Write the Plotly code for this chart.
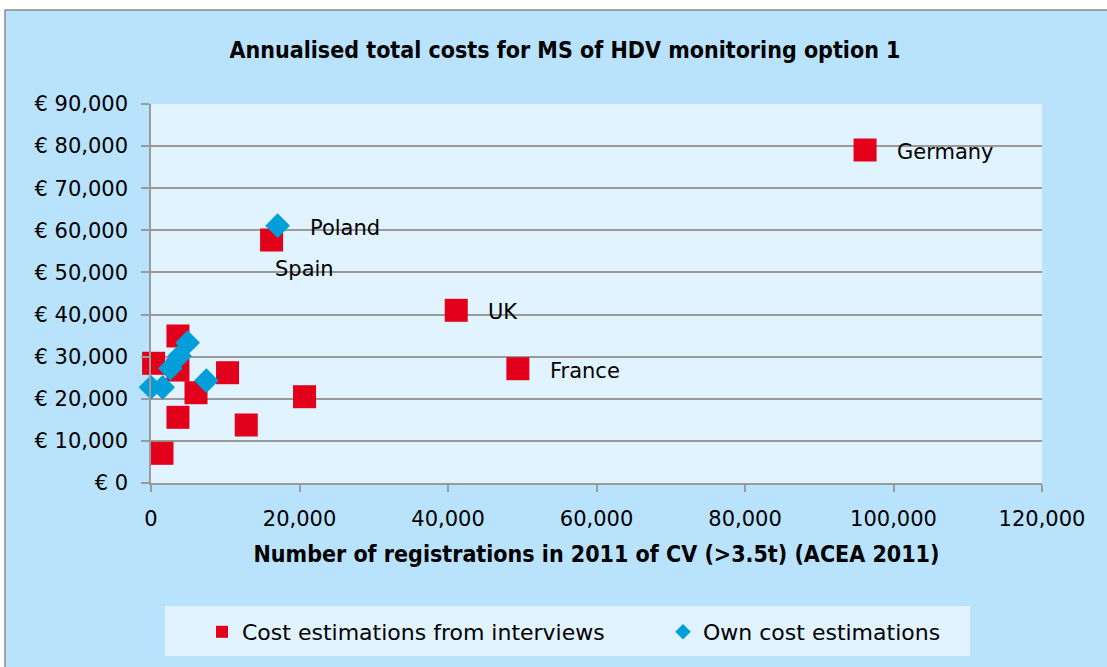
import plotly.graph_objects as go

# Cost estimations from interviews (red squares)
int_x = [96170, 16240, 41110, 49410, 20680, 10310, 12830, 3630, 350, 3630, 6060, 3630, 1480]
int_y = [79080, 57700, 41010, 27140, 20490, 26190, 13770, 34910, 28430, 26830, 21440, 15600, 7050]
int_lbl = ["Germany", "", "UK", "France", "", "", "", "", "", "", "", "", ""]

# Own cost estimations (blue diamonds)
own_x = [17050, 0, 1570, 2600, 3850, 4930, 7450]
own_y = [61100, 22720, 22720, 27230, 30160, 33320, 24300]
own_lbl = ["Poland", "", "", "", "", "", ""]

spain_idx = 1
spain_lbl = "Spain"

x_ticks = [0, 20000, 40000, 60000, 80000, 100000, 120000]
y_ticks = [0, 10000, 20000, 30000, 40000, 50000, 60000, 70000, 80000, 90000]
y_ticktext = ["€ 0", "€ 10,000", "€ 20,000", "€ 30,000", "€ 40,000", "€ 50,000",
              "€ 60,000", "€ 70,000", "€ 80,000", "€ 90,000"]

RED = "#E2001A"
BLUE = "#009FD9"
OUTER = "#B9E3FC"
INNER = "#E1F3FE"
GRID = "#9A9A9A"
FONT = "DejaVu Sans"
BFONT = "DejaVu Sans Condensed"

fig = go.Figure()
fig.add_trace(go.Scatter(x=int_x, y=int_y, mode="markers", name="Cost estimations from interviews",
                         marker=dict(symbol="square", size=23, color=RED, line=dict(width=0)),
                         cliponaxis=False, legend="legend"))
fig.add_trace(go.Scatter(x=own_x, y=own_y, mode="markers", name="Own cost estimations",
                         marker=dict(symbol="diamond", size=19, color=BLUE, line=dict(width=0)),
                         cliponaxis=False, legend="legend2"))

ann = []
for xs, ys, ls in ((int_x, int_y, int_lbl), (own_x, own_y, own_lbl)):
    for xv, yv, lv in zip(xs, ys, ls):
        if lv:
            ann.append(dict(x=xv, y=yv, xref="x", yref="y", text=lv, showarrow=False,
                            xanchor="left", yanchor="middle", xshift=30, yshift=-2,
                            font=dict(family=FONT, size=21, color="black")))
ann.append(dict(x=int_x[spain_idx], y=int_y[spain_idx], xref="x", yref="y", text=spain_lbl,
                showarrow=False, xanchor="left", yanchor="middle", xshift=1, yshift=-29,
                font=dict(family=FONT, size=21, color="black")))

L, R, T, B = 151, 65, 104, 184
W, H = 1107, 667
pw, ph = W - L - R, H - T - B

def px(xp):
    return (xp - L) / pw

def py(yp):
    return (H - B - yp) / ph

shapes = [
    dict(type="rect", xref="paper", yref="paper", x0=px(5), x1=px(1120), y0=py(680), y1=py(10),
         fillcolor=OUTER, line=dict(color="#8C8C8C", width=1.5), layer="below"),
    dict(type="rect", xref="paper", yref="paper", x0=0, x1=1, y0=0, y1=1,
         fillcolor=INNER, line=dict(width=0), layer="below"),
    dict(type="rect", xref="paper", yref="paper", x0=px(165), x1=px(970), y0=py(656), y1=py(606),
         fillcolor=INNER, line=dict(width=0), layer="below"),
]

leg_common = dict(orientation="h", xanchor="left", y=py(632), yanchor="middle",
                  bgcolor="rgba(0,0,0,0)", font=dict(family=FONT, size=22, color="black"),
                  itemsizing="constant")

fig.update_layout(
    width=W, height=H,
    margin=dict(l=L, r=R, t=T, b=B),
    paper_bgcolor="white",
    plot_bgcolor="rgba(0,0,0,0)",
    shapes=shapes,
    annotations=ann,
    title=dict(text="Annualised total costs for MS of HDV monitoring option 1",
               x=565 / W, xanchor="center", xref="container", y=1 - 50 / H, yanchor="middle",
               font=dict(family=BFONT, size=23, color="black", weight="bold")),
    showlegend=True,
    legend=dict(x=px(202), **leg_common),
    legend2=dict(x=px(663), **leg_common),
    xaxis=dict(range=[0, 120000], tickvals=x_ticks, tickformat=",d", showgrid=False,
               zeroline=False, showline=True, linecolor=GRID, linewidth=1.5,
               ticks="outside", ticklen=7, tickcolor=GRID, tickwidth=1.5,
               ticklabelstandoff=9,
               tickfont=dict(family=FONT, size=21, color="black"),
               title=dict(text="Number of registrations in 2011 of CV (>3.5t) (ACEA 2011)",
                          standoff=16,
                          font=dict(family=BFONT, size=23, color="black", weight="bold"))),
    yaxis=dict(range=[0, 90000], tickvals=y_ticks, ticktext=y_ticktext,
               showgrid=True, gridcolor=GRID, gridwidth=1.5,
               zeroline=False, showline=True, linecolor=GRID, linewidth=1.5,
               ticks="outside", ticklen=8, tickcolor=GRID, tickwidth=1.5,
               ticklabelstandoff=9,
               tickfont=dict(family=FONT, size=21, color="black")),
)

fig.write_html("out.html", config={"displayModeBar": False},
               post_script="document.body.style.margin='0';")
